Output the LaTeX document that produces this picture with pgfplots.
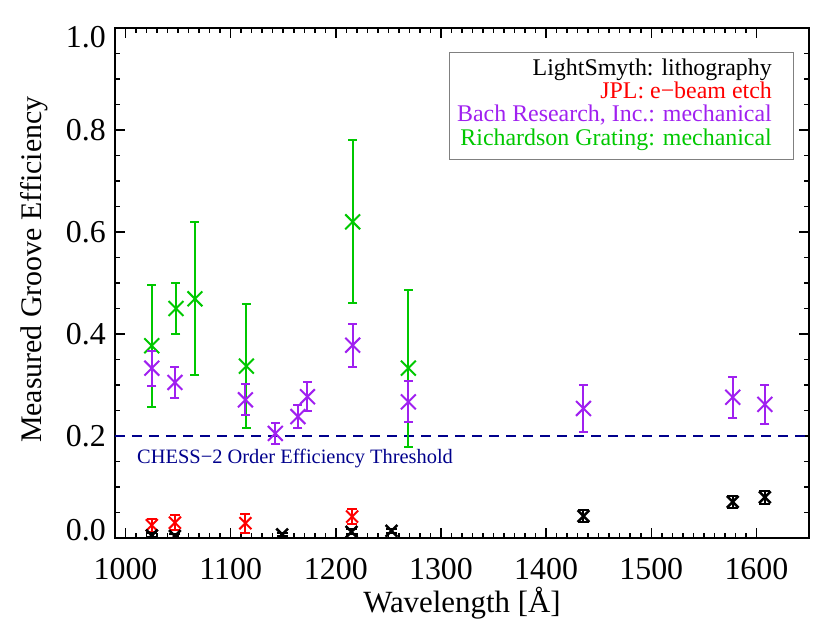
\documentclass[border=0pt]{standalone}
\usepackage{pgfplots}
\pgfplotsset{compat=1.18}
\usepackage{fontspec}
\setmainfont{Liberation Serif}
\definecolor{cpurple}{RGB}{160,32,240}
\definecolor{cgreen}{RGB}{0,200,0}
\definecolor{cnavy}{RGB}{0,0,140}
\definecolor{cred}{RGB}{255,0,0}
\newcommand{\tf}{\fontsize{32}{38}\selectfont}
\begin{document}
\begin{tikzpicture}
\useasboundingbox (-115bp,-94bp) rectangle (724bp,538bp);
\begin{axis}[
  scale only axis,
  width=694bp, height=510bp,
  xmin=990, xmax=1650, ymin=0, ymax=1,
  axis line style={line width=1.5bp},
  every tick/.style={line width=1.5bp, black},
  major tick length=10bp, minor tick length=5bp,
  tick align=inside,
  xtick={1000,1100,1200,1300,1400,1500,1600},
  xticklabels={1000,1100,1200,1300,1400,1500,1600},
  minor x tick num=9,
  ytick={0,0.2,0.4,0.6,0.8,1.0},
  yticklabels={\raisebox{8bp}[\height][\depth]{0.0},0.2,0.4,0.6,0.8,\raisebox{-9bp}[\height][\depth]{1.0}},
  minor y tick num=3,
  every tick label/.append style={font=\tf, inner sep=0pt},
  xticklabel style={anchor=north, yshift=-20bp},
  yticklabel style={anchor=east, xshift=-9bp},
  xlabel={Wavelength [Å]},
  ylabel={Measured Groove Efficiency},
  xlabel style={font=\fontsize{31}{36}\selectfont, at={(axis description cs:0.5,-0.1451)}, anchor=base},
  ylabel style={font=\fontsize{30}{36}\selectfont, at={(axis description cs:-0.1066,0.526)}, anchor=base},
  clip marker paths=true,
]
% threshold
\addplot[cnavy, line width=2bp, dash pattern=on 10bp off 7bp] coordinates {(990,0.2) (1650,0.2)};
% Richardson Grating
\addplot[only marks, color=cgreen, mark=x, mark size=10.5bp, mark options={line width=2bp},
  error bars/.cd, y dir=both, y explicit,
  error bar style={line width=2bp, cgreen},
  error mark options={rotate=90, mark size=4.5bp, line width=2bp, cgreen}]
coordinates {
(1025,0.377) +- (0,0.120)
(1048,0.450) +- (0,0.050)
(1066,0.469) +- (0,0.150)
(1115,0.337) +- (0,0.122)
(1216,0.620) +- (0,0.160)
(1269,0.333) +- (0,0.154)
};
% Bach Research
\addplot[only marks, color=cpurple, mark=x, mark size=10.5bp, mark options={line width=2bp},
  error bars/.cd, y dir=both, y explicit,
  error bar style={line width=2bp, cpurple},
  error mark options={rotate=90, mark size=4.5bp, line width=2bp, cpurple}]
coordinates {
(1025,0.333) +- (0,0.034)
(1047,0.305) +- (0,0.031)
(1114,0.271) +- (0,0.030)
(1142.5,0.205) +- (0,0.020)
(1164,0.238) +- (0,0.022)
(1173,0.277) +- (0,0.028)
(1216,0.378) +- (0,0.042)
(1269,0.267) +- (0,0.040)
(1435.5,0.254) +- (0,0.046)
(1577.5,0.276) +- (0,0.040)
(1608,0.262) +- (0,0.038)
};
% JPL
\addplot[only marks, color=cred, mark=x, mark size=8.5bp, mark options={line width=2bp},
  error bars/.cd, y dir=both, y explicit,
  error bar style={line width=2bp, cred},
  error mark options={rotate=90, mark size=5bp, line width=2bp, cred}]
coordinates {
(1025,0.025) +- (0,0.013)
(1047,0.030) +- (0,0.015)
(1114,0.029) +- (0,0.019)
(1215.5,0.042) +- (0,0.015)
};
% LightSmyth
\addplot[only marks, color=black, mark=x, mark size=8.3bp, mark options={line width=2.5bp},
  error bars/.cd, y dir=both, y explicit,
  error bar style={line width=2bp, black},
  error mark options={rotate=90, mark size=5.5bp, line width=2bp, black}]
coordinates {
(1025,0.005) +- (0,0.004)
(1047,0.004) +- (0,0.004)
(1149,0.007) +- (0,0.003)
(1215,0.012) +- (0,0.005)
(1253,0.014) +- (0,0.004)
(1435.5,0.043) +- (0,0.012)
(1577.5,0.071) +- (0,0.012)
(1608,0.080) +- (0,0.013)
};
\node[anchor=base west, inner sep=0pt, text=cnavy, font=\fontsize{20.5}{24}\selectfont]
  at (axis description cs:0.0317,0.147) {CHESS−2 Order Efficiency Threshold};
\node[draw=gray, line width=1bp, fill=white, anchor=north east, inner sep=0pt,
  minimum width=344bp, minimum height=106.5bp]
  at (axis description cs:0.9784,0.9529) {};
\node[anchor=base east, inner sep=0pt, text=black, font=\fontsize{24}{28}\selectfont]
  at (axis description cs:0.9467,0.9078) {LightSmyth: lithography};
\node[anchor=base east, inner sep=0pt, text=cred, font=\fontsize{24}{28}\selectfont]
  at (axis description cs:0.9467,0.8618) {JPL: e−beam etch};
\node[anchor=base east, inner sep=0pt, text=cpurple, font=\fontsize{24}{28}\selectfont]
  at (axis description cs:0.9467,0.8157) {Bach Research, Inc.: mechanical};
\node[anchor=base east, inner sep=0pt, text=cgreen, font=\fontsize{24}{28}\selectfont]
  at (axis description cs:0.9467,0.7696) {Richardson Grating: mechanical};
\end{axis}
\end{tikzpicture}
\end{document}
